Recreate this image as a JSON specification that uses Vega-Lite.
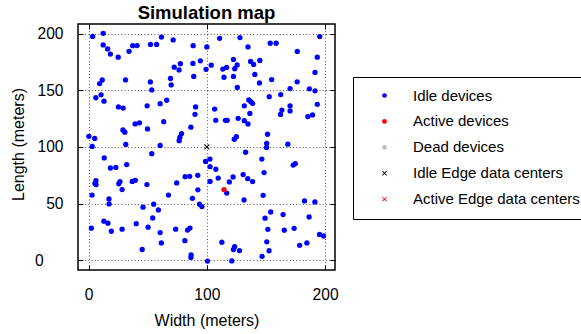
{
  "$schema": "https://vega.github.io/schema/vega-lite/v6.json",
  "width": 257,
  "height": 246,
  "autosize": {"type": "none"},
  "padding": {"left": 78, "top": 24, "right": 246, "bottom": 64},
  "background": "white",
  "title": {"text": "Simulation map", "font": "Liberation Sans", "fontSize": 18.5, "fontWeight": "bold", "color": "black", "anchor": "middle", "frame": "group", "baseline": "bottom", "offset": -17.5},
  "config": {
    "view": {"stroke": "black", "strokeWidth": 1.5},
    "font": "Liberation Sans",
    "axis": {"labelFont": "Liberation Sans", "labelColor": "black", "titleFont": "Liberation Sans", "titleColor": "black", "titleFontWeight": "normal", "tickColor": "black", "tickWidth": 1, "gridColor": "#555555", "gridDash": [1, 2.3], "gridWidth": 1, "domain": false}
  },
  "datasets": {
    "devices": [
      {"x": 3.4, "y": 197.5, "type": "Idle devices"},
      {"x": 12.3, "y": 200.3, "type": "Idle devices"},
      {"x": 12.3, "y": 190, "type": "Idle devices"},
      {"x": 16.1, "y": 186.5, "type": "Idle devices"},
      {"x": 18.4, "y": 182, "type": "Idle devices"},
      {"x": 25, "y": 179.2, "type": "Idle devices"},
      {"x": 34.2, "y": 184.4, "type": "Idle devices"},
      {"x": 37.3, "y": 189.4, "type": "Idle devices"},
      {"x": 41, "y": 189.5, "type": "Idle devices"},
      {"x": 52.3, "y": 190.5, "type": "Idle devices"},
      {"x": 57.5, "y": 190.5, "type": "Idle devices"},
      {"x": 61.6, "y": 197, "type": "Idle devices"},
      {"x": 71.5, "y": 194.4, "type": "Idle devices"},
      {"x": 88.4, "y": 189.4, "type": "Idle devices"},
      {"x": 100, "y": 188.3, "type": "Idle devices"},
      {"x": 110.8, "y": 195.9, "type": "Idle devices"},
      {"x": 128, "y": 196.5, "type": "Idle devices"},
      {"x": 134.8, "y": 188.3, "type": "Idle devices"},
      {"x": 153.6, "y": 191.5, "type": "Idle devices"},
      {"x": 158.6, "y": 191.5, "type": "Idle devices"},
      {"x": 176.5, "y": 184.3, "type": "Idle devices"},
      {"x": 195.5, "y": 197.4, "type": "Idle devices"},
      {"x": 193.4, "y": 179.2, "type": "Idle devices"},
      {"x": 72.4, "y": 170.4, "type": "Idle devices"},
      {"x": 76.5, "y": 168, "type": "Idle devices"},
      {"x": 77.6, "y": 173.5, "type": "Idle devices"},
      {"x": 88.2, "y": 173.7, "type": "Idle devices"},
      {"x": 94.5, "y": 176, "type": "Idle devices"},
      {"x": 88.9, "y": 162.2, "type": "Idle devices"},
      {"x": 99.3, "y": 168.5, "type": "Idle devices"},
      {"x": 103.7, "y": 172.2, "type": "Idle devices"},
      {"x": 113.5, "y": 168.7, "type": "Idle devices"},
      {"x": 116.7, "y": 170.2, "type": "Idle devices"},
      {"x": 114.5, "y": 161.5, "type": "Idle devices"},
      {"x": 122.5, "y": 177.2, "type": "Idle devices"},
      {"x": 123.6, "y": 169, "type": "Idle devices"},
      {"x": 125.6, "y": 172.4, "type": "Idle devices"},
      {"x": 122.5, "y": 162.2, "type": "Idle devices"},
      {"x": 125.8, "y": 152.5, "type": "Idle devices"},
      {"x": 137, "y": 175.5, "type": "Idle devices"},
      {"x": 139.6, "y": 172.8, "type": "Idle devices"},
      {"x": 140.6, "y": 164, "type": "Idle devices"},
      {"x": 144.5, "y": 156.5, "type": "Idle devices"},
      {"x": 144.8, "y": 176.3, "type": "Idle devices"},
      {"x": 154.8, "y": 159.5, "type": "Idle devices"},
      {"x": 152.8, "y": 144.4, "type": "Idle devices"},
      {"x": 162.5, "y": 146.2, "type": "Idle devices"},
      {"x": 176.4, "y": 157.5, "type": "Idle devices"},
      {"x": 170.4, "y": 151.5, "type": "Idle devices"},
      {"x": 186.7, "y": 151.3, "type": "Idle devices"},
      {"x": 191.5, "y": 165.8, "type": "Idle devices"},
      {"x": 191.5, "y": 149.5, "type": "Idle devices"},
      {"x": 193.4, "y": 137.6, "type": "Idle devices"},
      {"x": 189.4, "y": 128.3, "type": "Idle devices"},
      {"x": 185.4, "y": 126.8, "type": "Idle devices"},
      {"x": 170.4, "y": 136.3, "type": "Idle devices"},
      {"x": 170.4, "y": 131.8, "type": "Idle devices"},
      {"x": 163.5, "y": 132.5, "type": "Idle devices"},
      {"x": 162.3, "y": 128.7, "type": "Idle devices"},
      {"x": 168.5, "y": 102.4, "type": "Idle devices"},
      {"x": 9.3, "y": 155.9, "type": "Idle devices"},
      {"x": 11.5, "y": 159.1, "type": "Idle devices"},
      {"x": 6.1, "y": 143.4, "type": "Idle devices"},
      {"x": 10.5, "y": 146, "type": "Idle devices"},
      {"x": 13, "y": 140.4, "type": "Idle devices"},
      {"x": 31.2, "y": 159.1, "type": "Idle devices"},
      {"x": 25.2, "y": 135.3, "type": "Idle devices"},
      {"x": 29.2, "y": 134.3, "type": "Idle devices"},
      {"x": 52.2, "y": 157.4, "type": "Idle devices"},
      {"x": 53.4, "y": 150.3, "type": "Idle devices"},
      {"x": 49.5, "y": 136.3, "type": "Idle devices"},
      {"x": 60.5, "y": 138.2, "type": "Idle devices"},
      {"x": 66, "y": 141.2, "type": "Idle devices"},
      {"x": 69.2, "y": 160.4, "type": "Idle devices"},
      {"x": 69.8, "y": 154.7, "type": "Idle devices"},
      {"x": 90.5, "y": 135.3, "type": "Idle devices"},
      {"x": 90, "y": 128.8, "type": "Idle devices"},
      {"x": 86.5, "y": 117.4, "type": "Idle devices"},
      {"x": 106.6, "y": 133.4, "type": "Idle devices"},
      {"x": 107.5, "y": 123.5, "type": "Idle devices"},
      {"x": 115.7, "y": 123.5, "type": "Idle devices"},
      {"x": 117.2, "y": 123.5, "type": "Idle devices"},
      {"x": 126.5, "y": 125.3, "type": "Idle devices"},
      {"x": 131.7, "y": 136.3, "type": "Idle devices"},
      {"x": 135.5, "y": 141.5, "type": "Idle devices"},
      {"x": 137.1, "y": 140, "type": "Idle devices"},
      {"x": 138.7, "y": 138.5, "type": "Idle devices"},
      {"x": 136.4, "y": 129.6, "type": "Idle devices"},
      {"x": 131.7, "y": 123.2, "type": "Idle devices"},
      {"x": 134.8, "y": 120.3, "type": "Idle devices"},
      {"x": 123.2, "y": 106.8, "type": "Idle devices"},
      {"x": 125, "y": 109.1, "type": "Idle devices"},
      {"x": 132.8, "y": 95.3, "type": "Idle devices"},
      {"x": 151.3, "y": 111.2, "type": "Idle devices"},
      {"x": 150.6, "y": 103.2, "type": "Idle devices"},
      {"x": 150.5, "y": 99.6, "type": "Idle devices"},
      {"x": 146.5, "y": 89.3, "type": "Idle devices"},
      {"x": 148.4, "y": 77.4, "type": "Idle devices"},
      {"x": 173, "y": 84, "type": "Idle devices"},
      {"x": 174.8, "y": 85.3, "type": "Idle devices"},
      {"x": 0.2, "y": 109.4, "type": "Idle devices"},
      {"x": 5.1, "y": 107.5, "type": "Idle devices"},
      {"x": 3, "y": 100.5, "type": "Idle devices"},
      {"x": 13.2, "y": 90.3, "type": "Idle devices"},
      {"x": 29, "y": 115, "type": "Idle devices"},
      {"x": 30.6, "y": 113, "type": "Idle devices"},
      {"x": 31.4, "y": 102.2, "type": "Idle devices"},
      {"x": 39.3, "y": 120.3, "type": "Idle devices"},
      {"x": 43, "y": 121.3, "type": "Idle devices"},
      {"x": 49.8, "y": 115.9, "type": "Idle devices"},
      {"x": 53.4, "y": 94.1, "type": "Idle devices"},
      {"x": 63.5, "y": 122.3, "type": "Idle devices"},
      {"x": 60.5, "y": 101.3, "type": "Idle devices"},
      {"x": 76.6, "y": 105.5, "type": "Idle devices"},
      {"x": 77.2, "y": 108.6, "type": "Idle devices"},
      {"x": 78.6, "y": 111.8, "type": "Idle devices"},
      {"x": 98.9, "y": 87.2, "type": "Idle devices"},
      {"x": 102.6, "y": 89.3, "type": "Idle devices"},
      {"x": 102.7, "y": 82.6, "type": "Idle devices"},
      {"x": 107.6, "y": 80.3, "type": "Idle devices"},
      {"x": 109.6, "y": 72.5, "type": "Idle devices"},
      {"x": 102.7, "y": 69.5, "type": "Idle devices"},
      {"x": 92.3, "y": 75, "type": "Idle devices"},
      {"x": 85.5, "y": 74.1, "type": "Idle devices"},
      {"x": 81.6, "y": 73.8, "type": "Idle devices"},
      {"x": 74.5, "y": 68.2, "type": "Idle devices"},
      {"x": 67.5, "y": 57.5, "type": "Idle devices"},
      {"x": 55, "y": 49.5, "type": "Idle devices"},
      {"x": 59, "y": 44.4, "type": "Idle devices"},
      {"x": 54.2, "y": 37.3, "type": "Idle devices"},
      {"x": 49.3, "y": 66.8, "type": "Idle devices"},
      {"x": 32.2, "y": 84.4, "type": "Idle devices"},
      {"x": 18.4, "y": 81.4, "type": "Idle devices"},
      {"x": 23, "y": 81.9, "type": "Idle devices"},
      {"x": 36.9, "y": 69.6, "type": "Idle devices"},
      {"x": 39.5, "y": 70.5, "type": "Idle devices"},
      {"x": 26.5, "y": 69.4, "type": "Idle devices"},
      {"x": 25.5, "y": 67.5, "type": "Idle devices"},
      {"x": 28.3, "y": 62.4, "type": "Idle devices"},
      {"x": 6.2, "y": 70.3, "type": "Idle devices"},
      {"x": 5.3, "y": 67.8, "type": "Idle devices"},
      {"x": 6.3, "y": 66.8, "type": "Idle devices"},
      {"x": 2.9, "y": 57.5, "type": "Idle devices"},
      {"x": 17.2, "y": 54.1, "type": "Idle devices"},
      {"x": 17.3, "y": 49.7, "type": "Idle devices"},
      {"x": 12.9, "y": 34.5, "type": "Idle devices"},
      {"x": 16.3, "y": 32.7, "type": "Idle devices"},
      {"x": 2.3, "y": 28.3, "type": "Idle devices"},
      {"x": 19.2, "y": 25.6, "type": "Idle devices"},
      {"x": 28.3, "y": 27.4, "type": "Idle devices"},
      {"x": 40.3, "y": 32.3, "type": "Idle devices"},
      {"x": 46, "y": 46.8, "type": "Idle devices"},
      {"x": 45.3, "y": 9.5, "type": "Idle devices"},
      {"x": 50.3, "y": 29.2, "type": "Idle devices"},
      {"x": 60.5, "y": 24.4, "type": "Idle devices"},
      {"x": 61.5, "y": 15.3, "type": "Idle devices"},
      {"x": 73.6, "y": 27.4, "type": "Idle devices"},
      {"x": 81.4, "y": 17.3, "type": "Idle devices"},
      {"x": 87.8, "y": 54.7, "type": "Idle devices"},
      {"x": 92.4, "y": 62.2, "type": "Idle devices"},
      {"x": 93.8, "y": 49.5, "type": "Idle devices"},
      {"x": 95.8, "y": 47.4, "type": "Idle devices"},
      {"x": 83.7, "y": 26.6, "type": "Idle devices"},
      {"x": 85.7, "y": 28.4, "type": "Idle devices"},
      {"x": 86.7, "y": 4.8, "type": "Idle devices"},
      {"x": 86.5, "y": 2.5, "type": "Idle devices"},
      {"x": 100.5, "y": -0.7, "type": "Idle devices"},
      {"x": 112.7, "y": 15.9, "type": "Idle devices"},
      {"x": 121.1, "y": -0.6, "type": "Idle devices"},
      {"x": 122.5, "y": 9.5, "type": "Idle devices"},
      {"x": 123.5, "y": 12, "type": "Idle devices"},
      {"x": 127.6, "y": 8.5, "type": "Idle devices"},
      {"x": 131.5, "y": 53.2, "type": "Idle devices"},
      {"x": 122.2, "y": 73.5, "type": "Idle devices"},
      {"x": 119, "y": 69.1, "type": "Idle devices"},
      {"x": 116.8, "y": 59.3, "type": "Idle devices"},
      {"x": 130.7, "y": 75.6, "type": "Idle devices"},
      {"x": 134.6, "y": 72, "type": "Idle devices"},
      {"x": 138.7, "y": 69.4, "type": "Idle devices"},
      {"x": 147.6, "y": 57.3, "type": "Idle devices"},
      {"x": 149.2, "y": 37.1, "type": "Idle devices"},
      {"x": 154, "y": 42.6, "type": "Idle devices"},
      {"x": 151.6, "y": 27.3, "type": "Idle devices"},
      {"x": 150.7, "y": 16.3, "type": "Idle devices"},
      {"x": 152.6, "y": 8.4, "type": "Idle devices"},
      {"x": 146.7, "y": 3.5, "type": "Idle devices"},
      {"x": 164.5, "y": 40.3, "type": "Idle devices"},
      {"x": 165.5, "y": 26.5, "type": "Idle devices"},
      {"x": 173.8, "y": 28.2, "type": "Idle devices"},
      {"x": 178.5, "y": 13.2, "type": "Idle devices"},
      {"x": 182.6, "y": 52.4, "type": "Idle devices"},
      {"x": 186.5, "y": 38.2, "type": "Idle devices"},
      {"x": 184.6, "y": 15.3, "type": "Idle devices"},
      {"x": 191.4, "y": 51.5, "type": "Idle devices"},
      {"x": 195.3, "y": 22.8, "type": "Idle devices"},
      {"x": 198.7, "y": 21.4, "type": "Idle devices"},
      {"x": 114.5, "y": 62.4, "type": "Active devices"}
    ],
    "centers": [
      {"x": 100, "y": 100, "type": "Idle Edge data centers"}
    ]
  },
  "layer": [
    {
      "data": {"name": "devices"},
      "mark": {"type": "point", "filled": true, "size": 28, "opacity": 1, "strokeWidth": 0},
      "encoding": {
        "x": {"field": "x", "type": "quantitative", "scale": {"domain": [-9, 208.4], "nice": false, "zero": false},
              "axis": {"orient": "bottom", "values": [0, 100, 200], "grid": true, "tickSize": -5, "labelPadding": 22.2, "labelFontSize": 15.6, "title": "Width (meters)", "titleFontSize": 16, "titleY": 55, "titleBaseline": "alphabetic"}},
        "y": {"field": "y", "type": "quantitative", "scale": {"domain": [-8.6, 208.5], "nice": false, "zero": false},
              "axis": {"orient": "left", "values": [0, 50, 100, 150, 200], "grid": true, "tickSize": -5, "labelPadding": 20, "labelAlign": "right", "labelExpr": "datum.value == 0 ? '' : datum.label", "labelFontSize": 15.6, "title": "Length (meters)", "titleFontSize": 16, "titleX": -54.3, "titleY": 120, "titleBaseline": "alphabetic"}},
        "color": {"field": "type", "type": "nominal",
                  "scale": {"domain": ["Idle devices", "Active devices", "Dead devices", "Idle Edge data centers", "Active Edge data centers"], "range": ["#0000FF", "#FF0000", "#BEBEBE", "#000000", "#FF0000"]},
                  "legend": {"title": null, "orient": "none", "legendX": 275, "legendY": 53, "strokeColor": "black", "padding": 11, "symbolOffset": 13, "labelOffset": 21, "labelFontSize": 15, "labelFont": "Liberation Sans", "labelColor": "black", "rowPadding": 9.9, "symbolSize": 22, "labelLimit": 400}},
        "shape": {"field": "type", "type": "nominal",
                  "scale": {"domain": ["Idle devices", "Active devices", "Dead devices", "Idle Edge data centers", "Active Edge data centers"], "range": ["circle", "circle", "circle", "M0.79,-1.05L1.05,-0.79L0.25,0L1.05,0.79L0.79,1.05L0,0.25L-0.79,1.05L-1.05,0.79L-0.25,0L-1.05,-0.79L-0.79,-1.05L0,-0.25Z", "M0.79,-1.05L1.05,-0.79L0.25,0L1.05,0.79L0.79,1.05L0,0.25L-0.79,1.05L-1.05,0.79L-0.25,0L-1.05,-0.79L-0.79,-1.05L0,-0.25Z"]},
                  "legend": {"title": null, "orient": "none", "legendX": 275, "legendY": 53, "strokeColor": "black", "padding": 11, "symbolOffset": 13, "labelOffset": 21, "labelFontSize": 15, "labelFont": "Liberation Sans", "labelColor": "black", "rowPadding": 9.9, "symbolSize": 22, "labelLimit": 400}}
      }
    },
    {
      "data": {"name": "centers"},
      "mark": {"type": "point", "filled": true, "size": 30, "opacity": 1, "strokeWidth": 0},
      "encoding": {
        "x": {"field": "x", "type": "quantitative",
              "axis": {"orient": "top", "values": [0, 100, 200], "grid": false, "tickSize": -5, "labels": false, "title": null}},
        "y": {"field": "y", "type": "quantitative",
              "axis": {"orient": "right", "values": [0, 50, 100, 150, 200], "grid": false, "tickSize": -5, "labels": false, "title": null}},
        "color": {"field": "type", "type": "nominal"},
        "shape": {"field": "type", "type": "nominal"}
      }
    },
    {
      "data": {"name": "centers"},
      "mark": {"type": "point", "opacity": 0},
      "encoding": {
        "x": {"field": "x", "type": "quantitative", "axis": null},
        "y": {"field": "y", "type": "quantitative",
              "axis": {"orient": "left", "values": [0], "grid": false, "ticks": false, "labelPadding": 43.5, "labelAlign": "left", "labelFontSize": 15.6, "title": null}}
      }
    }
  ],
  "resolve": {"axis": {"x": "independent", "y": "independent"}}
}
